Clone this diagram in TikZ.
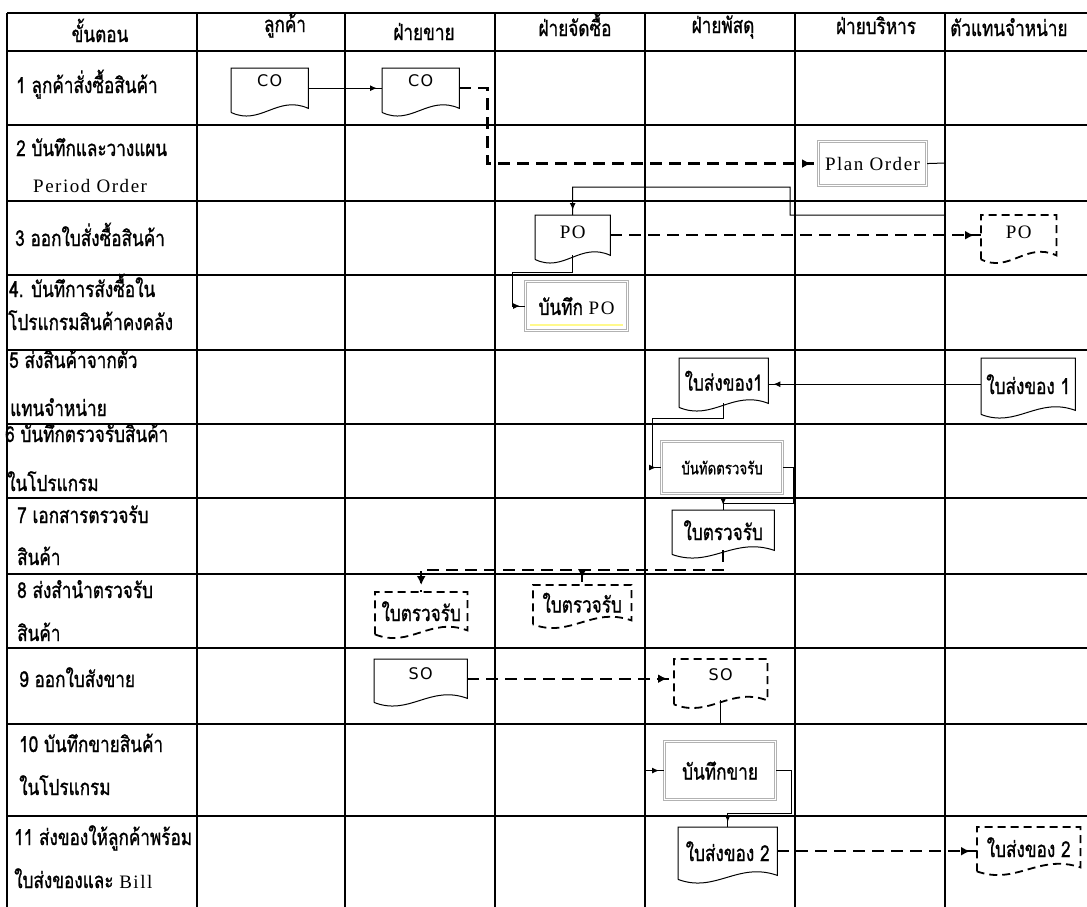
\documentclass[tikz,border=0pt]{standalone}
\usepackage{fontspec}
\setmainfont{Liberation Serif}
\newfontfamily\thai[Script=Thai,FakeStretch=0.78,FakeBold=1]{Loma}
\newfontfamily\spaced{Liberation Serif}[LetterSpace=8]
\newfontfamily\bitsans{DejaVu Sans}[LetterSpace=8]
\usetikzlibrary{calc,arrows.meta,decorations.markings}

\newcommand{\thaisize}{\thai\fontsize{22}{24}\selectfont}
\newcommand{\latsize}{\spaced\fontsize{19}{21}\selectfont}
\newcommand{\sanssize}{\bitsans\fontsize{16}{18}\selectfont}

\tikzset{
  gridline/.style={line width=1.4pt},
  lbl/.style={anchor=base west, inner sep=0pt, font=\thaisize},
  hdr/.style={anchor=base, inner sep=0pt, font=\thaisize},
  docu/.style={draw=none, inner sep=0pt, anchor=north west, align=center, font=\thaisize,
    append after command={\pgfextra{\draw[line width=1pt,#1]
      ([yshift=-4pt]\tikzlastnode.south west) -- (\tikzlastnode.north west)
      -- (\tikzlastnode.north east) -- (\tikzlastnode.south east)
      .. controls ($(\tikzlastnode.south east)!0.4!(\tikzlastnode.south west)+(0,14pt)$)
      and ($(\tikzlastnode.south east)!0.62!(\tikzlastnode.south west)+(0,-18pt)$)
      .. ([yshift=-4pt]\tikzlastnode.south west);}}},
  docu/.default={},
  dashdoc/.style={docu={line width=1.8pt,dash pattern=on 8pt off 5pt}},
  proc/.style={draw=gray!60, double=white, double distance=1.6pt, line width=1.1pt,
    inner sep=0pt, anchor=north west, align=center, font=\thaisize},
  flow/.style={line width=1pt, postaction={decorate},
    decoration={markings, mark=at position -5pt with {\arrow{Latex[length=7pt,width=6pt]}}}},
  dflow/.style={line width=2.4pt, dash pattern=on 12pt off 7pt, postaction={decorate},
    decoration={markings, mark=at position -7pt with {\arrow{Latex[length=9pt,width=9pt]}}}}
}

\begin{document}
\begin{tikzpicture}[x=1pt,y=-1pt]
\useasboundingbox (0,0) rectangle (1087,906);
\clip (0,0) rectangle (1087,906);

% table
\draw[gridline] (7,13) -- (1100,13) (7,51) -- (1100,51) (7,125) -- (1100,125)
  (7,201) -- (1100,201) (7,275) -- (1100,275) (7,350) -- (1100,350)
  (7,424) -- (1100,424) (7,498) -- (1100,498) (7,574) -- (1100,574)
  (7,648) -- (1100,648) (7,724) -- (1100,724) (7,816) -- (1100,816);
\draw[gridline] (7,13) -- (7,920) (197,13) -- (197,920) (345,13) -- (345,920)
  (495,13) -- (495,920) (645,13) -- (645,920) (795,13) -- (795,920)
  (945,13) -- (945,920);

% header
\node[hdr] (h0) at (100,42) {ขั้นตอน};
\node[hdr] (h1) at (285,32) {ลูกค้า};
\node[hdr] (h2) at (424,40) {ฝ่ายขาย};
\node[hdr] (h3) at (575,36) {ฝ่ายจัดซื้อ};
\node[hdr] (h4) at (723,33) {ฝ่ายพัสดุ};
\node[hdr] (h5) at (876,34) {ฝ่ายบริหาร};
\node[lbl] (h6) at (950,36) {ตัวแทนจำหน่าย};

% steps
\node[lbl] (s1) at (16,93) {1 ลูกค้าสั่งซื้อสินค้า};
\node[lbl] (s2a) at (16,156) {2 บันทึกและวางแผน};
\node[lbl,font=\latsize] (s2b) at (33,192) {Period Order};
\node[lbl] (s3) at (15,246) {3 ออกใบสั่งซื้อสินค้า};
\node[lbl] (s4a) at (9,297) {4. บันทึการสังซื้อใน};
\node[lbl] (s4b) at (8,330) {โปรแกรมสินค้าคงคลัง};
\node[lbl] (s5a) at (9,368) {5 ส่งสินค้าจากตัว};
\node[lbl] (s5b) at (10,416) {แทนจำหน่าย};
\node[lbl] (s6a) at (5,442) {6 บันทึกตรวจรับสินค้า};
\node[lbl] (s6b) at (7,491) {ในโปรแกรม};
\node[lbl] (s7a) at (17,523) {7 เอกสารตรวจรับ};
\node[lbl] (s7b) at (17,565) {สินค้า};
\node[lbl] (s8a) at (17,598) {8 ส่งสำนำตรวจรับ};
\node[lbl] (s8b) at (17,641) {สินค้า};
\node[lbl] (s9) at (19,687) {9 ออกใบสังขาย};
\node[lbl] (s10a) at (19,752) {10 บันทึกขายสินค้า};
\node[lbl] (s10b) at (19,795) {ในโปรแกรม};
\node[lbl] (s11a) at (14,845) {11 ส่งของให้ลูกค้าพร้อม};
\node[lbl] (s11b) at (14,888) {ใบส่งของและ {\latsize Bill}};

% documents
\node[docu, minimum width=77pt, minimum height=40pt, text depth=16pt] (co1) at (231,68) {\sanssize CO};
\node[docu, minimum width=77pt, minimum height=40pt, text depth=16pt] (co2) at (382,68) {\sanssize CO};
\node[docu, minimum width=75pt, minimum height=40pt, text depth=6pt] (po1) at (535,215) {\latsize PO};
\node[dashdoc, minimum width=75pt, minimum height=40pt, text depth=6pt] (po2) at (981,215) {\latsize PO};
\node[docu, minimum width=94pt, minimum height=52pt] (bs1a) at (981,358) {ใบส่งของ 1};
\node[docu, minimum width=89pt, minimum height=45pt] (bs1b) at (679,358) {ใบส่งของ1};
\node[docu, minimum width=102pt, minimum height=40pt] (tr1) at (672,510) {ใบตรวจรับ};
\node[dashdoc, minimum width=92pt, minimum height=38pt] (tr2) at (375,592) {ใบตรวจรับ};
\node[dashdoc, minimum width=98pt, minimum height=35pt] (tr3) at (533,585) {ใบตรวจรับ};
\node[docu, minimum width=93pt, minimum height=39pt, text depth=10pt] (so1) at (374,659) {\sanssize SO};
\node[dashdoc, minimum width=93pt, minimum height=41pt, text depth=10pt] (so2) at (674,659) {\sanssize SO};
\node[docu, minimum width=99pt, minimum height=48pt] (bs2a) at (678,827) {ใบส่งของ 2};
\node[dashdoc, minimum width=103pt, minimum height=40pt] (bs2b) at (977,827) {ใบส่งของ 2};

% process boxes
\node[proc, minimum width=108pt, minimum height=44pt] (plan) at (818,141) {\latsize Plan Order};
\node[proc, minimum width=102pt, minimum height=49pt] (bpo) at (525,281) {บันทึก {\latsize PO}};
\draw[yellow!45, line width=1.5pt] ([xshift=5pt,yshift=6pt]bpo.south west) -- ([xshift=-5pt,yshift=6pt]bpo.south east);
\node[proc, minimum width=121pt, minimum height=52pt, font=\thai\fontsize{17}{19}\selectfont] (btr) at (661,441) {บันทัดตรวจรับ};
\node[proc, minimum width=111pt, minimum height=58pt] (bsale) at (664,741) {บันทึกขาย};

% flows
\draw[flow] (co1.east) -- (co2.west);
\draw[dflow] (co2.east) -- ++(28,0) |- (plan.west);
\draw[flow] (plan.east) -- (945,163) -- (945,215) -- (790,215) -- (790,187) -| (po1.north);
\draw[dflow] (po1.east) -- (po2.west);
\draw[flow] (po1.south) -- ++(0,17) -- ++(-60,0) |- (bpo.west);
\draw[flow] (bs1a.west) -- (bs1a.west -| bs1b.east);
\draw[flow] (bs1b.south) |- (652,418) |- (btr.west);
\draw[flow] (btr.east) -- ++(10,0) |- ([yshift=7pt]tr1.north) -- (tr1.north);
\draw[dflow] (tr1.south) |- ([yshift=22pt]tr2.north) -- (tr2.north);
\coordinate (j8) at ([yshift=15pt]tr3.north);
\draw[dflow] (j8) -- (tr3.north);
\draw[dflow] (so1.east) -- (so1.east -| so2.west);
\draw[flow] (so2.south) |- (645,723) |- (bsale.west);
\draw[flow] (bsale.east) -- ++(15,0) |- ([yshift=14pt]bs2a.north) -- (bs2a.north);
\draw[dflow] (bs2a.east) -- (bs2a.east -| bs2b.west);
\end{tikzpicture}
\end{document}
